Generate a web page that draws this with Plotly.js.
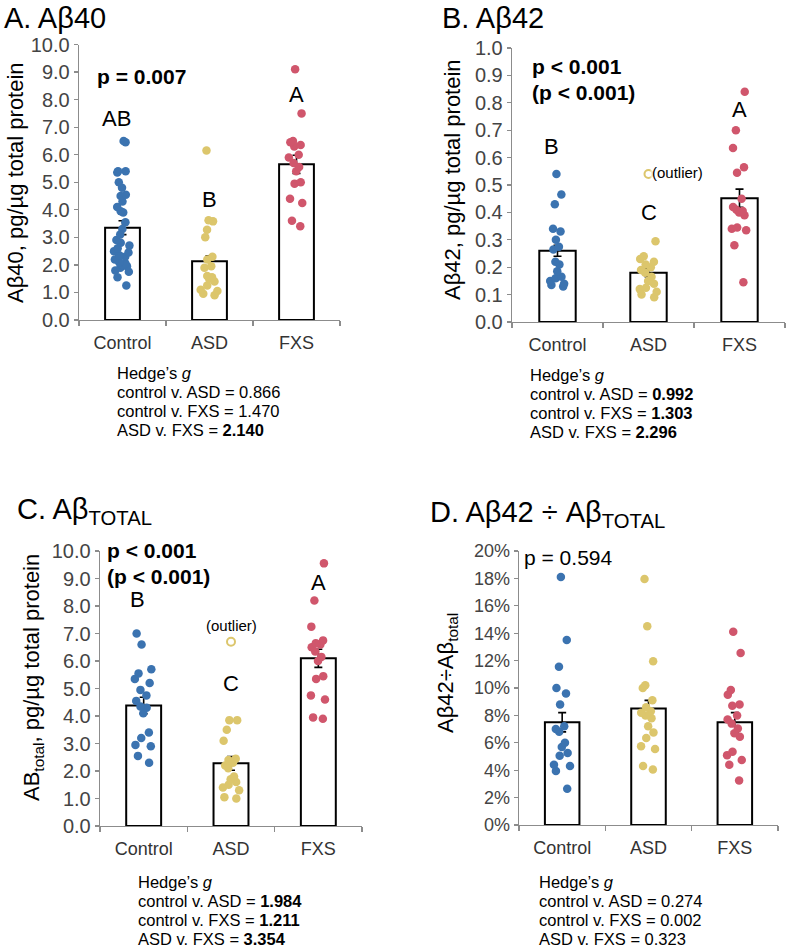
<!DOCTYPE html>
<html>
<head>
<meta charset="utf-8">
<script src="https://cdn.plot.ly/plotly-3.0.1.min.js"></script>
<style>html,body{margin:0;padding:0;background:#fff;}#chart{width:787px;height:948px;}</style>
</head>
<body>
<div id="chart"></div>
<script>
// ---------- DATA ----------
const groups = ['Control', 'ASD', 'FXS'];

// A. Aβ40 (pg/µg total protein)
const a40Control = [6.45, 6.5, 5.4, 5.4, 5.35, 5.0, 4.8, 4.55, 4.5, 4.3, 4.1, 3.95, 3.9, 3.55, 3.3, 3.1, 2.9, 2.8, 2.7, 2.6, 2.5, 2.45, 2.35, 2.3, 2.2, 2.1, 2.05, 2.0, 1.95, 1.9, 1.8, 1.75, 1.55, 1.25];
const a40ASD = [6.15, 3.62, 3.58, 3.28, 3.0, 2.3, 2.2, 1.95, 1.9, 1.6, 1.55, 1.5, 1.4, 1.25, 1.1, 1.05, 0.95, 0.9];
const a40FXS = [9.1, 7.5, 6.5, 6.45, 6.35, 6.3, 6.0, 5.9, 5.7, 5.55, 5.4, 5.0, 4.95, 4.4, 4.25, 3.6, 3.4];
const a40Mean = [3.35, 2.13, 5.65];
const a40SEM = [0.25, 0.2, 0.33];
const a40Letters = ['AB', 'B', 'A'];
const a40LetterY = [7.33, 4.36, 8.2];

// B. Aβ42
const a42Control = [0.54, 0.465, 0.43, 0.34, 0.33, 0.30, 0.275, 0.265, 0.22, 0.21, 0.185, 0.165, 0.16, 0.15, 0.14, 0.135, 0.13];
const a42ASD = [0.295, 0.24, 0.23, 0.22, 0.21, 0.2, 0.19, 0.18, 0.165, 0.15, 0.14, 0.125, 0.12, 0.11, 0.1, 0.09];
const a42FXS = [0.84, 0.70, 0.635, 0.565, 0.545, 0.45, 0.42, 0.41, 0.405, 0.40, 0.39, 0.345, 0.34, 0.335, 0.28, 0.145];
const a42OutlierASD = [0.54];
const a42Mean = [0.26, 0.18, 0.452];
const a42SEM = [0.02, 0.015, 0.033];
const a42Letters = ['B', 'C', 'A'];
const a42LetterY = [0.64, 0.40, 0.775];

// C. Aβ total
const totControl = [7.0, 6.6, 5.7, 5.55, 5.35, 5.2, 4.95, 4.75, 4.55, 4.35, 4.3, 4.1, 3.4, 3.2, 2.95, 2.9, 2.55, 2.3];
const totASD = [3.85, 3.85, 3.5, 3.1, 2.45, 2.4, 2.3, 2.2, 2.1, 1.8, 1.7, 1.6, 1.5, 1.4, 1.3, 1.05, 1.0];
const totFXS = [9.55, 8.2, 7.25, 6.75, 6.65, 6.6, 6.5, 6.35, 6.15, 6.0, 5.45, 5.35, 4.75, 4.6, 3.95, 3.9];
const totOutlierASD = [6.7];
const totMean = [4.38, 2.28, 6.1];
const totSEM = [0.3, 0.25, 0.33];
const totLetters = ['B', 'C', 'A'];
const totLetterY = [8.25, 5.2, 8.87];

// D. Aβ42 ÷ Aβ total (%)
const ratioControl = [18.1, 13.5, 11.55, 10.0, 9.6, 8.8, 7.2, 7.0, 6.8, 6.0, 5.7, 5.25, 5.05, 4.4, 4.3, 3.95, 2.65];
const ratioASD = [17.95, 14.5, 11.95, 10.2, 10.0, 9.1, 8.6, 8.3, 8.2, 8.0, 7.8, 7.2, 6.75, 6.35, 5.75, 5.55, 4.3, 4.05];
const ratioFXS = [14.1, 12.55, 9.85, 9.5, 8.8, 8.7, 8.0, 7.7, 7.4, 7.05, 6.7, 6.45, 5.35, 5.1, 4.75, 4.4, 3.25];
const ratioMean = [7.5, 8.5, 7.5];
const ratioSEM = [0.7, 0.6, 0.7];

// Hedge's g text
const hedgeA = ['control v. ASD = 0.866', 'control v. FXS = 1.470', 'ASD v. FXS = <b>2.140</b>'];
const hedgeB = ['control v. ASD = <b>0.992</b>', 'control v. FXS = <b>1.303</b>', 'ASD v. FXS = <b>2.296</b>'];
const hedgeC = ['control v. ASD = <b>1.984</b>', 'control v. FXS = <b>1.211</b>', 'ASD v. FXS = <b>3.354</b>'];
const hedgeD = ['control v. ASD = 0.274', 'control v. FXS = 0.002', 'ASD v. FXS = 0.323'];

// ---------- STYLE / LAYOUT ----------
const W = 787, H = 948;
const px = v => v / W;
const py = v => 1 - v / H;
const FONT = 'Liberation Sans, Arial, sans-serif';
const groupColors = ['#3b73b0', '#dcc66c', '#d0566c'];

const traces = [];
const suffixes = ['', '2', '3', '4'];

function addPanel(idx, pts, mean, sem, outlier) {
  const xa = 'x' + suffixes[idx], ya = 'y' + suffixes[idx];
  traces.push({
    type: 'bar', x: groups, y: mean, xaxis: xa, yaxis: ya, width: 0.4,
    marker: {color: 'white', line: {color: 'black', width: 2}},
    error_y: {type: 'data', array: sem, visible: true, color: 'black', thickness: 1.6, width: 4},
    hoverinfo: 'skip', showlegend: false
  });
  pts.forEach((arr, i) => {
    traces.push({
      type: 'box', y: arr, x0: groups[i], xaxis: xa, yaxis: ya,
      boxpoints: 'all', jitter: 0.6, pointpos: 0, width: 0.4,
      line: {width: 0, color: 'rgba(0,0,0,0)'}, fillcolor: 'rgba(0,0,0,0)', whiskerwidth: 0,
      marker: {color: groupColors[i], size: 8.5, opacity: 1, line: {width: 0}},
      hoverinfo: 'skip', showlegend: false
    });
  });
  if (outlier) {
    traces.push({
      type: 'scatter', mode: 'markers', x: outlier.map(() => groups[1]), y: outlier,
      xaxis: xa, yaxis: ya,
      marker: {symbol: 'circle-open', color: groupColors[1], size: 8, line: {width: 2, color: groupColors[1]}},
      hoverinfo: 'skip', showlegend: false
    });
  }
}

addPanel(0, [a40Control, a40ASD, a40FXS], a40Mean, a40SEM, null);
addPanel(1, [a42Control, a42ASD, a42FXS], a42Mean, a42SEM, a42OutlierASD);
addPanel(2, [totControl, totASD, totFXS], totMean, totSEM, totOutlierASD);
addPanel(3, [ratioControl, ratioASD, ratioFXS], ratioMean, ratioSEM, null);

function xax(x0, x1) {
  return {
    domain: [px(x0), px(x1)], type: 'category', categoryorder: 'array', categoryarray: groups,
    range: [-0.5, 2.5], showline: true, linecolor: '#8c8c8c', linewidth: 1.3,
    ticks: 'outside', tickson: 'boundaries', ticklen: 5, tickcolor: '#8c8c8c', tickwidth: 1.3,
    ticklabelstandoff: 6,
    tickfont: {family: FONT, size: 18, color: '#333'}, showgrid: false, zeroline: false, fixedrange: true
  };
}
function yax(y0, y1, range, dtick, fmt, suffix, fsize) {
  return {
    domain: [py(y1), py(y0)], range: range, dtick: dtick, tickformat: fmt, ticksuffix: suffix || '',
    showline: true, linecolor: '#8c8c8c', linewidth: 1.3, ticks: 'outside', ticklen: 4,
    tickcolor: '#8c8c8c', tickwidth: 1.3,
    tickfont: {family: FONT, size: fsize || 20, color: '#444'}, showgrid: false, zeroline: false, fixedrange: true
  };
}

const ann = [];
function txt(x, y, text, size, opts) {
  ann.push(Object.assign({
    xref: 'paper', yref: 'paper', x: px(x), y: py(y), text: text, showarrow: false,
    xanchor: 'left', yanchor: 'middle', font: {family: FONT, size: size, color: '#000'}
  }, opts || {}));
}

// panel titles
txt(2, 18, 'A. Aβ40', 29);
txt(440, 18, 'B. Aβ42', 29);
txt(15, 511, 'C. Aβ<sub>TOTAL</sub>', 29);
txt(428, 514, 'D. Aβ42 ÷ Aβ<sub>TOTAL</sub>', 29);

// y axis titles
txt(15, 183, 'Aβ40, pg/µg total protein', 22, {xanchor: 'center', textangle: -90});
txt(452, 180, 'Aβ42, pg/µg total protein', 22, {xanchor: 'center', textangle: -90});
txt(33, 678, 'AB<sub>total</sub>, pg/µg total protein', 22, {xanchor: 'center', textangle: -90});
txt(447, 673, 'Aβ42÷Aβ<sub>total</sub>', 22, {xanchor: 'center', textangle: -90});

// p values
txt(95, 77, '<b>p = 0.007</b>', 21);
txt(530, 66, '<b>p &lt; 0.001</b>', 21);
txt(530, 92, '<b>(p &lt; 0.001)</b>', 21);
txt(105, 550, '<b>p &lt; 0.001</b>', 21);
txt(105, 576, '<b>(p &lt; 0.001)</b>', 21);
txt(522, 557, 'p = 0.594', 21);

// outlier labels
txt(650, 173, '(outlier)', 15, {bgcolor: 'rgba(255,255,255,0.6)'});
txt(231, 625, '(outlier)', 15, {xanchor: 'center'});

// group letters
function letters(idx, labs, ys) {
  labs.forEach((l, i) => ann.push({
    xref: 'x' + suffixes[idx], yref: 'y' + suffixes[idx], x: groups[i], y: ys[i], text: l,
    showarrow: false, font: {family: FONT, size: 22, color: '#000'}, xshift: i === 0 ? -6 : 0
  }));
}
letters(0, a40Letters, a40LetterY);
letters(1, a42Letters, a42LetterY);
letters(2, totLetters, totLetterY);

// Hedge's g blocks
function hedge(x, y0, lines) {
  txt(x, y0, 'Hedge’s <i>g</i>', 16.5);
  lines.forEach((l, i) => txt(x, y0 + 19 * (i + 1), l, 16.5));
}
hedge(115, 373, hedgeA);
hedge(528, 375, hedgeB);
hedge(136, 882, hedgeC);
hedge(537, 882, hedgeD);

const layout = {
  width: W, height: H, margin: {l: 0, r: 0, t: 0, b: 0},
  paper_bgcolor: 'white', plot_bgcolor: 'rgba(0,0,0,0)', showlegend: false,
  boxmode: 'overlay', barmode: 'overlay',
  font: {family: FONT},
  xaxis: Object.assign(xax(79, 340), {anchor: 'y'}),
  yaxis: Object.assign(yax(44.5, 320, [0, 10], 1, '.1f'), {anchor: 'x'}),
  xaxis2: Object.assign(xax(512, 785), {anchor: 'y2'}),
  yaxis2: Object.assign(yax(48, 322, [0, 1], 0.1, '.1f'), {anchor: 'x2'}),
  xaxis3: Object.assign(xax(100, 362), {anchor: 'y3'}),
  yaxis3: Object.assign(yax(551, 826, [0, 10], 1, '.1f'), {anchor: 'x3'}),
  xaxis4: Object.assign(xax(519, 778), {anchor: 'y4'}),
  yaxis4: Object.assign(yax(551, 825, [0, 20], 2, 'd', '%', 18), {anchor: 'x4'}),
  annotations: ann
};

Plotly.newPlot('chart', traces, layout, {staticPlot: true, displayModeBar: false});
</script>
</body>
</html>
